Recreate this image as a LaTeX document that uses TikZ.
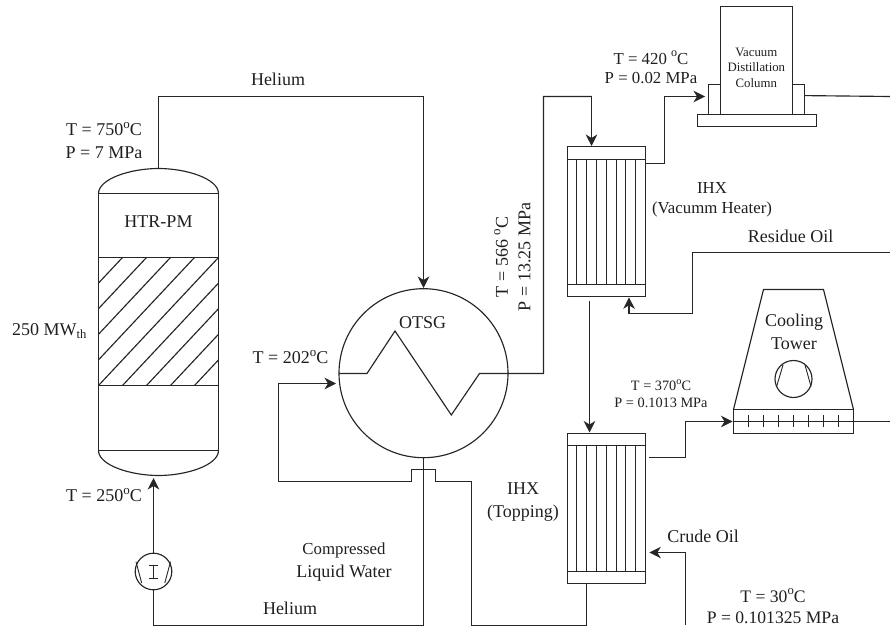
\documentclass[tikz,border=0pt]{standalone}
\usepackage{fontspec}
\setmainfont{Liberation Serif}
\usetikzlibrary{arrows.meta,calc}
\newcommand{\fs}[2]{\fontsize{#1}{#2}\selectfont}
\newcommand{\dg}{\raisebox{0.42em}{\fontsize{0.72em}{1em}\selectfont o}}
\tikzset{
  ln/.style={line width=1.15pt,draw=black!85,line join=miter},
  pipe/.style={ln,-{Stealth[length=11.5pt,width=11.5pt,inset=3.5pt]}},
  plain/.style={ln},
  box/.style={ln,rectangle,inner sep=0pt,outer sep=0pt},
  ring/.style={ln,circle,inner sep=0pt,outer sep=0pt,minimum size=#1},
  lab/.style={inner sep=0pt,outer sep=0pt,align=center,text=black!88,font=\fs{18}{22.5}},
  labm/.style={lab,font=\fs{16.8}{19.5}},
  labs/.style={lab,font=\fs{14.3}{17}},
  labt/.style={lab,font=\fs{12.8}{15.5}},
}
\begin{document}
\begin{tikzpicture}[x=1pt,y=-1pt]
\useasboundingbox (0,0) rectangle (890,628);
% ---------- reactor
\node[box,minimum width=120pt,minimum height=257pt] (reactor) at (158.5,322) {};
\draw[ln] (reactor.north west) .. controls (98.5,179) and (130,168.5) .. (158.5,168.5)
  .. controls (187,168.5) and (218.5,179) .. (reactor.north east);
\draw[ln] (reactor.south west) .. controls (98.5,465) and (130,475.5) .. (158.5,475.5)
  .. controls (187,475.5) and (218.5,465) .. (reactor.south east);
\foreach \k in {1,...,5}{\draw[ln] ({98.5+24*\k},257.5) -- (98.5,{257.5+25.6*\k});}
\foreach \k in {1,...,4}{\draw[ln] (218.5,{257.5+25.6*\k}) -- ({98.5+24*\k},385.5);}
\draw[ln] (98.5,257.5) -- (218.5,257.5);
\draw[ln] (98.5,385.5) -- (218.5,385.5);
\coordinate (rtop) at (158.5,168.5);
% ---------- pump
\node[ring=36.6pt] (pump) at (153.5,571.5) {};
\draw[ln,line width=.9pt] (136,561.7) -- (141.7,583) (170.5,561.7) -- (164.8,583);
\draw[ln,line width=.9pt] (149,565.5) -- (157.5,565.5) (153.5,565.5) -- (153.5,578.5) (149,578.5) -- (157.5,578.5);
% ---------- OTSG
\node[ring=169pt] (otsg) at (423.5,373.2) {};
% ---------- heat exchangers
\node[box,minimum width=78pt,minimum height=150pt] (hxa) at (606.5,221.5) {};
\node[box,minimum width=78pt,minimum height=150pt] (hxb) at (606.5,508.5) {};
\draw[ln] (567.5,159.5) -- (645.5,159.5) (567.5,284.5) -- (645.5,284.5);
\draw[ln] (567.5,445.5) -- (645.5,445.5) (567.5,571.5) -- (645.5,571.5);
\foreach \x in {576.5,586.5,596.5,606.5,616.5,625.5,635.5}{
  \draw[ln] (\x,159.5) -- (\x,284.5);
  \draw[ln] (\x,445.5) -- (\x,571.5);
}
% ---------- vacuum column
\node[box,minimum width=72pt,minimum height=108pt] (col) at (756.5,60.5) {};
\node[box,minimum width=12pt,minimum height=30pt] (colL) at (714.5,99.5) {};
\node[box,minimum width=12pt,minimum height=30pt] (colR) at (798.5,99.5) {};
\node[box,minimum width=119pt,minimum height=12pt] (colB) at (757,120.5) {};
% ---------- cooling tower
\node[box,minimum width=120pt,minimum height=24pt] (tw) at (793.5,421.5) {};
\draw[ln] (tw.north west) -- (763.5,289.5) -- (823.5,289.5) -- (tw.north east);
\node[ring=37pt] (fan) at (793.5,379) {};
\draw[ln,line width=.9pt] (783,365) -- (776.6,386.5) (805,365) -- (811,386.5);
\foreach \k in {0,...,6}{\draw[ln] ({748.5+15*\k},415) -- ({748.5+15*\k},427);}
\draw[ln] (tw.west) -- (tw.east);
% ---------- free ends
\coordinate (e1) at (890,96.5);
\coordinate (e2) at (890,252.5);
\coordinate (e3) at (890,421.5);
\coordinate (crude) at (685.5,625);
% ---------- connectors
\draw[pipe] (rtop) -- (158.5,96.5) -- (423.5,96.5) -- (423.5,288);
\draw[pipe] (pump.north) -- (153.5,478);
\draw[plain] (pump.south) -- (153.5,625.5) -- (423.5,625.5) -- (otsg.south);
\draw[plain] (339,373.5) -- (367,373.5) -- (395,331) -- (451.3,415) -- (479.5,373.5) -- (543.5,373.5) -- (543.5,96.5) -- (591.5,96.5);
\draw[pipe] (591.5,96.5) -- (591.5,146);
\draw[pipe] (586.5,583.5) -- (586.5,625.5) -- (471.5,625.5) -- (471.5,481.5) -- (435.5,481.5) -- (435.5,469.5) -- (411.5,469.5) -- (411.5,481.5) -- (278.5,481.5) -- (278.5,383.5) -- (336,383.5);
\draw[pipe] (645.5,163.5) -- (664.5,163.5) -- (664.5,96.5) -- (705,96.5);
\draw[plain] (804.5,95.6) -- (e1);
\draw[pipe] (e2) -- (692.5,252.5) -- (692.5,313.5) -- (629,313.5) -- (629,297.3);
\draw[pipe] (589.5,301.3) -- (589.5,432.5);
\draw[pipe] (649,457.5) -- (685.5,457.5) -- (685.5,421.5) -- (732.5,421.5);
\draw[plain] (tw.east) -- (e3);
\draw[pipe] (crude) -- (685.5,552.5) -- (649.3,552.5);
% ---------- labels
\node[lab] (l1) at (278,79) {Helium};
\node[lab] (l2) at (104,140.5) {T = 750\dg C\\P = 7 MPa};
\node[lab] (l3) at (158.5,222) {HTR-PM};
\node[lab] (l4) at (49.5,331) {250 MW\textsubscript{th}};
\node[lab] (l5) at (104,495) {T = 250\dg C};
\node[lab] (l6) at (290.5,357) {T = 202\dg C};
\node[lab] (l7) at (422.5,323) {OTSG};
\node[lab] (l8) at (290,608) {Helium};
\node[lab] (l9) at (344,562) {{\fontsize{16.8}{22.5}\selectfont Compressed}\\Liquid Water};
\node[lab,rotate=90] (l10) at (512.5,257) {T = 566 \dg C\\P = 13.25 MPa};
\node[labm] (l11) at (651,67.5) {T = 420 \dg C\\P = 0.02 MPa};
\node[labt] (l12) at (756.3,67.5) {Vacuum\\Distillation\\Column};
\node[lab,font=\fs{16.8}{20.5}] (l13) at (712,200) {IHX\\(Vacumm Heater)};
\node[lab] (l14) at (790.5,236) {Residue Oil};
\node[lab] (l15) at (794,332) {Cooling\\Tower};
\node[labs] (l16) at (661,393.5) {T = 370\dg C\\P = 0.1013 MPa};
\node[lab] (l17) at (523,502) {IHX\\(Topping)};
\node[lab] (l18) at (703,536) {Crude Oil};
\node[lab,font=\fs{17.6}{21.5}] (l19) at (773,606.5) {T = 30\dg C\\P = 0.101325 MPa};
\end{tikzpicture}
\end{document}
